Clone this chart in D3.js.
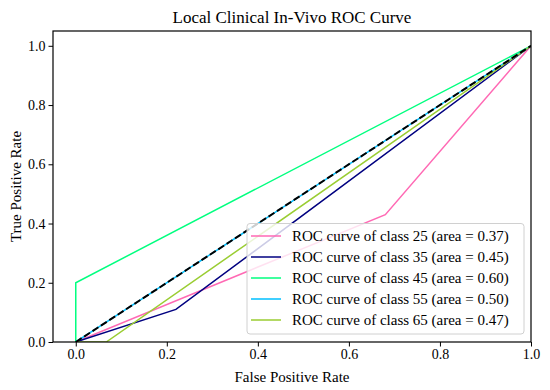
<!DOCTYPE html>
<html><head><meta charset="utf-8">
<script src="https://cdn.jsdelivr.net/npm/d3@7"></script>
<style>body{margin:0;background:#fff} text{font-family:"Liberation Serif","Times New Roman",serif;fill:#000}</style>
</head><body><svg id="c" width="550" height="390"></svg>
<script>
const classes = ["25", "35", "45", "55", "65"];
const areas = ["0.37", "0.45", "0.60", "0.50", "0.47"];
const colors = ["#ff69b4", "#000080", "#00ff7f", "#00bfff", "#9acd32"];
const fpr25 = [0, 0.68, 1],  tpr25 = [0, 0.43, 1];
const fpr35 = [0, 0.22, 1],  tpr35 = [0, 0.11, 1];
const fpr45 = [0, 0, 1],     tpr45 = [0, 0.2, 1];
const fpr55 = [0, 1],        tpr55 = [0, 1];
const fpr65 = [0, 0.067, 1], tpr65 = [0, 0, 1];
const xTicks = [0, 0.2, 0.4, 0.6, 0.8, 1.0];
const yTicks = [0, 0.2, 0.4, 0.6, 0.8, 1.0];
const fprs = [fpr25, fpr35, fpr45, fpr55, fpr65];
const tprs = [tpr25, tpr35, tpr45, tpr55, tpr65];

const svg = d3.select("#c");
const L = 53, R = 531, T = 31, B = 342;
const x = d3.scaleLinear().domain([-0.05, 1.0]).range([L, R]);
const y = d3.scaleLinear().domain([0, 1.05]).range([B, T]);

svg.append("clipPath").attr("id","cp").append("rect")
  .attr("x", L).attr("y", T).attr("width", R-L).attr("height", B-T);
const plot = svg.append("g").attr("clip-path","url(#cp)");
const line = d3.line().x(d => x(d[0])).y(d => y(d[1]));

fprs.forEach((f, i) => {
  const pts = f.map((v, j) => [v, tprs[i][j]]);
  plot.append("path").attr("d", line(pts)).attr("fill","none")
    .attr("stroke", colors[i]).attr("stroke-width", 1.5);
});
plot.append("path").attr("d", line([[0,0],[1,1]])).attr("fill","none")
  .attr("stroke","#000").attr("stroke-width",2).attr("stroke-dasharray","7,3");

const xa = svg.append("g").attr("transform",`translate(0,${B})`)
  .call(d3.axisBottom(x).tickValues(xTicks).tickFormat(d3.format(".1f")).tickSize(4.5).tickPadding(3));
const ya = svg.append("g").attr("transform",`translate(${L},0)`)
  .call(d3.axisLeft(y).tickValues(yTicks).tickFormat(d3.format(".1f")).tickSize(4.5).tickPadding(3));
[xa, ya].forEach(a => {
  a.select(".domain").remove();
  a.attr("font-size", 14).attr("font-family", '"Liberation Serif",serif');
  a.selectAll(".tick line").attr("stroke","#000").attr("stroke-width",1);
});
svg.append("rect").attr("x",L).attr("y",T).attr("width",R-L).attr("height",B-T)
  .attr("fill","none").attr("stroke","#000").attr("stroke-width",1.2);

const lg = svg.append("g");
lg.append("rect").attr("x",247).attr("y",223.5).attr("width",277).attr("height",110.5)
  .attr("rx",3).attr("fill","#fff").attr("fill-opacity",0.8).attr("stroke","#d0d0d0").attr("stroke-width",1);
classes.forEach((c, i) => {
  const yy = 236 + i * 21;
  lg.append("line").attr("x1",251).attr("x2",281).attr("y1",yy).attr("y2",yy)
    .attr("stroke",colors[i]).attr("stroke-width",1.5);
  lg.append("text").attr("x",292).attr("y",yy).attr("dy","0.35em").attr("font-size",15)
    .text(`ROC curve of class ${c} (area = ${areas[i]})`);
});

svg.append("text").attr("x",(L+R)/2).attr("y",23).attr("text-anchor","middle")
  .attr("font-size",17).text("Local Clinical In-Vivo ROC Curve");
svg.append("text").attr("x",(L+R)/2).attr("y",382).attr("text-anchor","middle")
  .attr("font-size",15).text("False Positive Rate");
svg.append("text").attr("transform",`translate(21,${(T+B)/2}) rotate(-90)`).attr("text-anchor","middle")
  .attr("font-size",15).text("True Positive Rate");
</script></body></html>
